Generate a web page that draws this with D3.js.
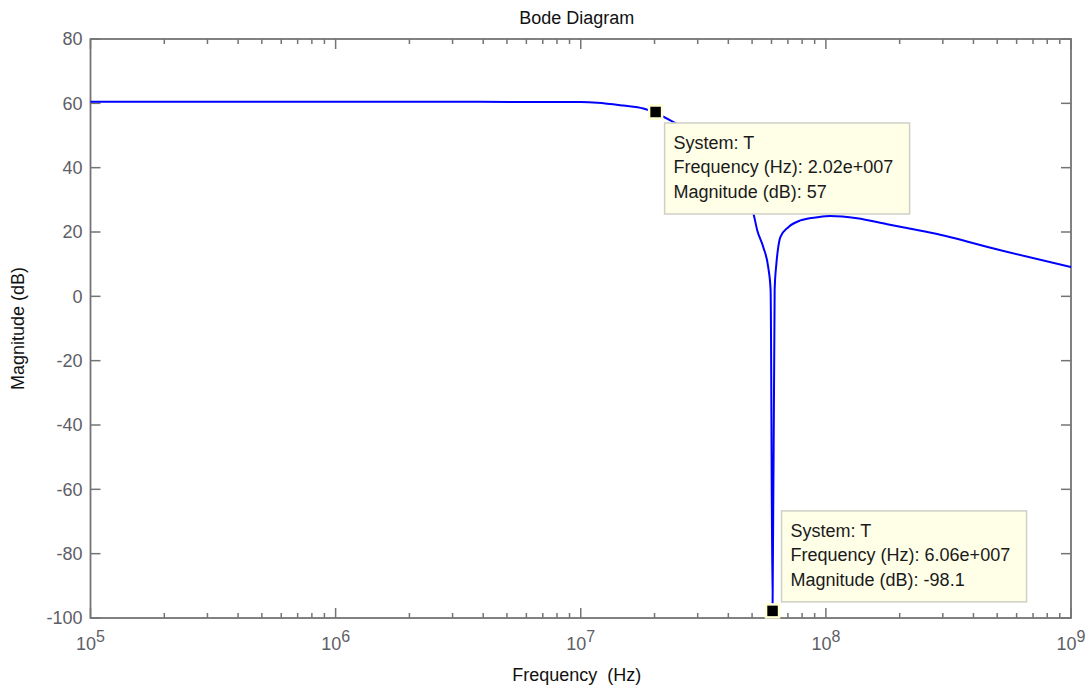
<!DOCTYPE html>
<html>
<head>
<meta charset="utf-8">
<script src="https://cdn.jsdelivr.net/npm/d3@7"></script>
<style>
  html, body { margin: 0; padding: 0; background: #fff; }
  svg { display: block; font-family: "Liberation Sans", Arial, sans-serif; }
</style>
</head>
<body>
<svg id="chart" width="1087" height="688"></svg>
<script>
// frequency response of system T
const freqHz = [1e5, 1e6, 1e7, 1.17e7, 1.49e7, 1.80e7, 2.02e7, 2.32e7, 2.80e7, 3.38e7,
  4.08e7, 4.70e7, 5.06e7, 5.25e7, 5.56e7, 5.82e7, 5.95e7, 6.06e7, 6.18e7, 6.28e7,
  6.40e7, 6.52e7, 7.03e7, 7.87e7, 9.23e7, 1.04e8, 1.34e8, 1.78e8, 2.01e8, 2.75e8, 5.16e8, 1e9]
const magDb = [60.5, 60.5, 60.4, 60.2, 59.3, 58.4, 57, 54.7, 51, 46,
  39, 31, 25.8, 20.5, 15.2, 9, 2, -98.1, 2, 10,
  15.5, 18.4, 21.5, 23.6, 24.6, 25, 24.3, 22.4, 21.6, 19.6, 14.3, 9.1]

// data tips
const tipFreq = [2.02e7, 6.06e7]
const tipMag = [57, -98.1]
const tipFreqLabel = ['2.02e+007', '6.06e+007']
const tipMagLabel = ['57', '-98.1']

const yTicks = [-100, -80, -60, -40, -20, 0, 20, 40, 60, 80]
const xDecades = [5, 6, 7, 8, 9]

const width = 1087
const height = 688
const marginLeft = 90.5
const marginRight = 16
const marginTop = 39
const marginBottom = 70

const svg = d3.select('#chart')

const x = d3.scaleLog()
    .domain([1e5, 1e9])
    .range([marginLeft, width - marginRight])

const y = d3.scaleLinear()
    .domain([-100, 80])
    .range([height - marginBottom, marginTop])

const axisColor = '#747474'
const labelColor = '#5e5e66'
const x0 = x.range()[0], x1 = x.range()[1]
const y0 = y.range()[0], y1 = y.range()[1]

// ticks (inside, on all four sides)
const ticks = svg.append('g')
    .attr('stroke', axisColor)
    .attr('stroke-width', 1.5)

const minor = []
xDecades.slice(0, -1).forEach(e => {
  for (let k = 2; k <= 9; k++) minor.push(k * Math.pow(10, e))
})

ticks.selectAll('.xmaj')
  .data(xDecades)
  .join('g')
  .each(function(e) {
    const px = x(Math.pow(10, e))
    const g = d3.select(this)
    g.append('line').attr('x1', px).attr('x2', px).attr('y1', y0).attr('y2', y0 - 10)
    g.append('line').attr('x1', px).attr('x2', px).attr('y1', y1).attr('y2', y1 + 10)
  })

ticks.selectAll('.xmin')
  .data(minor)
  .join('g')
  .each(function(f) {
    const px = x(f)
    const g = d3.select(this)
    g.append('line').attr('x1', px).attr('x2', px).attr('y1', y0).attr('y2', y0 - 5)
    g.append('line').attr('x1', px).attr('x2', px).attr('y1', y1).attr('y2', y1 + 5)
  })

ticks.selectAll('.ymaj')
  .data(yTicks)
  .join('g')
  .each(function(v) {
    const py = y(v)
    const g = d3.select(this)
    g.append('line').attr('x1', x0).attr('x2', x0 + 10).attr('y1', py).attr('y2', py)
    g.append('line').attr('x1', x1).attr('x2', x1 - 10).attr('y1', py).attr('y2', py)
  })

// box
svg.append('rect')
    .attr('x', x0)
    .attr('y', y1)
    .attr('width', x1 - x0)
    .attr('height', y0 - y1)
    .attr('fill', 'none')
    .attr('stroke', axisColor)
    .attr('stroke-width', 1.8)

// y tick labels
svg.append('g')
  .selectAll('text')
  .data(yTicks)
  .join('text')
    .attr('x', x0 - 8)
    .attr('y', d => y(d))
    .attr('dy', '0.35em')
    .attr('text-anchor', 'end')
    .attr('font-size', 18)
    .attr('fill', labelColor)
    .text(d => d)

// x tick labels 10^n
const xl = svg.append('g')
  .selectAll('text')
  .data(xDecades)
  .join('text')
    .attr('x', d => x(Math.pow(10, d)))
    .attr('y', y0 + 32)
    .attr('text-anchor', 'middle')
    .attr('font-size', 18)
    .attr('fill', labelColor)
xl.append('tspan').text('10')
xl.append('tspan').attr('dy', -8).attr('font-size', 16).text(d => d)

// curve
const line = d3.line()
    .x((d, i) => x(freqHz[i]))
    .y(d => y(d))
    .curve(d3.curveMonotoneX)

svg.append('path')
    .datum(magDb)
    .attr('fill', 'none')
    .attr('stroke', '#0000ff')
    .attr('stroke-width', 2)
    .attr('stroke-linejoin', 'round')
    .attr('d', line)

// data tips
const tipOffset = [[9, 10], [9, -101]]
const tip = svg.append('g')
  .selectAll('g')
  .data(tipFreq)
  .join('g')

tip.append('rect')
    .attr('x', (d, i) => x(d) + tipOffset[i][0])
    .attr('y', (d, i) => y(tipMag[i]) + tipOffset[i][1])
    .attr('width', 245)
    .attr('height', 91)
    .attr('fill', '#ffffe8')
    .attr('stroke', '#cfcfc6')
    .attr('stroke-width', 1.5)

const tipText = tip.append('text')
    .attr('font-size', 18)
    .attr('fill', '#1a1a1a')

const tipLines = (d, i) => ['System: T',
  'Frequency (Hz): ' + tipFreqLabel[i],
  'Magnitude (dB): ' + tipMagLabel[i]]

tipText.each(function(d, i) {
  const t = d3.select(this)
  tipLines(d, i).forEach((s, k) => {
    t.append('tspan')
      .attr('x', x(d) + tipOffset[i][0] + 9)
      .attr('y', y(tipMag[i]) + tipOffset[i][1] + 26 + k * 24.5)
      .text(s)
  })
})

tip.append('rect')
    .attr('x', d => x(d) - 6.5)
    .attr('y', (d, i) => y(tipMag[i]) - 7.5)
    .attr('width', 13)
    .attr('height', 13)
    .attr('fill', '#000')
    .attr('stroke', '#ffffd6')
    .attr('stroke-width', 2.5)

// titles
svg.append('text')
    .attr('x', (x0 + x1) / 2 - 4)
    .attr('y', 24)
    .attr('text-anchor', 'middle')
    .attr('font-size', 18)
    .attr('fill', '#111')
    .text('Bode Diagram')

svg.append('text')
    .attr('x', (x0 + x1) / 2 - 4)
    .attr('y', 681)
    .attr('text-anchor', 'middle')
    .attr('font-size', 18)
    .attr('fill', '#111')
    .attr('xml:space', 'preserve')
    .style('white-space', 'pre')
    .text('Frequency  (Hz)')

svg.append('text')
    .attr('transform', `translate(${24},${(y0 + y1) / 2}) rotate(-90)`)
    .attr('text-anchor', 'middle')
    .attr('font-size', 18)
    .attr('fill', '#111')
    .text('Magnitude (dB)')
</script>
</body>
</html>
